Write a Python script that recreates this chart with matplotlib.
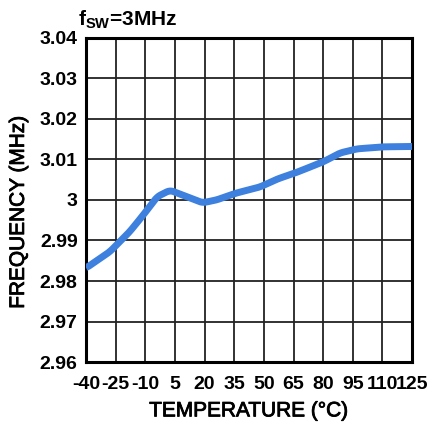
import matplotlib.pyplot as plt
import matplotlib.patheffects as pe
import numpy as np

plt.rcParams['font.family'] = 'Liberation Sans'
plt.rcParams['mathtext.fontset'] = 'custom'
plt.rcParams['mathtext.rm'] = 'Liberation Sans:bold'
plt.rcParams['axes.unicode_minus'] = False

# frequency vs temperature, fsw = 3MHz
temp = [-40, -28, -18, -11, -4, 2.5, 11, 19, 26, 36, 48, 57, 66, 80, 88.6, 97, 110, 125]
freq = [2.9832, 2.9872, 2.9921, 2.9963, 3.0008, 3.0024, 3.0008, 2.9993, 3.0000,
        3.0017, 3.0032, 3.0052, 3.0067, 3.0094, 3.0116, 3.0126, 3.0131, 3.0132]

xticks = [-40, -25, -10, 5, 20, 35, 50, 65, 80, 95, 110, 125]
yticks = [2.96, 2.97, 2.98, 2.99, 3.00, 3.01, 3.02, 3.03, 3.04]
ylabels = ['2.96', '2.97', '2.98', '2.99', '3', '3.01', '3.02', '3.03', '3.04']

fig = plt.figure(figsize=(4.32, 4.25), dpi=100)
ax = fig.add_axes([0.199, 0.148, 0.755, 0.763])

# smooth the hand-read points a bit
xs = np.linspace(-40, 125, 400)
ys = np.interp(xs, temp, freq)
k = np.ones(9) / 9
ys = np.convolve(np.pad(ys, 4, mode='edge'), k, mode='valid')
ax.plot(xs, ys, color='#3d80de', lw=5, solid_capstyle='butt', zorder=3)

ax.set_xlim(-40, 125)
ax.set_ylim(2.96, 3.04)
ax.set_xticks(xticks)
ax.set_yticks(yticks)
ax.set_yticklabels(ylabels)
ax.grid(True, color='#222222', lw=1.3)
ax.tick_params(length=0, labelsize=14)
ax.tick_params(axis='x', pad=10)
ax.tick_params(axis='y', pad=6)
for lab in ax.get_xticklabels() + ax.get_yticklabels():
    lab.set_fontweight('bold')
for sp in ax.spines.values():
    sp.set_linewidth(2.2)

heavy = [pe.withStroke(linewidth=0.6, foreground='black')]
ax.set_xlabel('TEMPERATURE (°C)', fontsize=15, labelpad=6, path_effects=heavy)
ax.set_ylabel('FREQUENCY (MHz)', fontsize=15, labelpad=6, path_effects=heavy)
ax.yaxis.set_label_coords(-0.178, 0.463)
fig.text(0.181, 0.94, r'f$_{\mathrm{SW}}$=3MHz', fontsize=15, fontweight='bold')

fig.savefig('out.png', dpi=100)
